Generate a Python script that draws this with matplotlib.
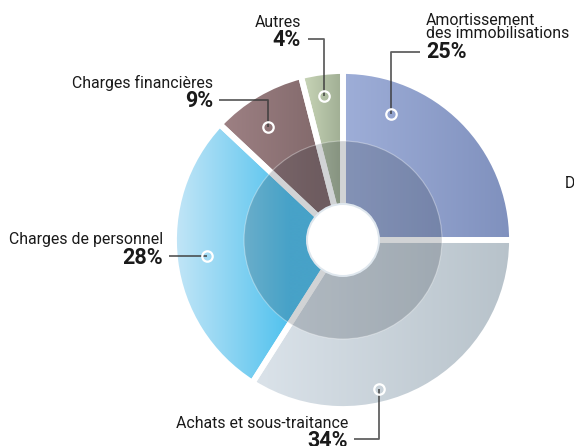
import numpy as np
import matplotlib
matplotlib.use("Agg")
import matplotlib.pyplot as plt
from matplotlib.colors import to_rgb
from matplotlib.patches import Circle

# ---- data ----
categories = ["Amortissement\ndes immobilisations", "Achats et sous-traitance",
              "Charges de personnel", "Charges financières", "Autres"]
values = [25, 34, 28, 9, 4]
pct_labels = ["25%", "34%", "28%", "9%", "4%"]
grad_left = ["#9eaed8", "#dbe3ea", "#c4e6f7", "#9e8184", "#cad7b9"]
grad_right = ["#7f90bd", "#b7c2ca", "#52c2ee", "#836a6c", "#9eac92"]

W, H = 574, 446
plt.rcParams['font.family'] = ['Roboto', 'DejaVu Sans']
fig = plt.figure(figsize=(W / 100, H / 100), dpi=100)
ax = fig.add_axes([0, 0, 1, 1])

def Y(y):
    return H - y

cx, cy, R = 343, Y(240), 169
wedges, _ = ax.pie(values, startangle=90, counterclock=False, center=(cx, cy),
                   radius=R, wedgeprops=dict(facecolor='none', edgecolor='white',
                                             linewidth=4.2, zorder=3))
ax.set_xlim(0, W)
ax.set_ylim(0, H)
ax.set_aspect('equal')
ax.axis('off')

for w, cl, cr in zip(wedges, grad_left, grad_right):
    verts = w.get_patch_transform().transform(w.get_path().vertices)
    y0, y1 = verts[:, 1].min(), verts[:, 1].max()
    x0a, x1a = verts[:, 0].min(), verts[:, 0].max()
    # gradient spans the visible (outer) part of the slice
    th = np.radians(np.linspace(w.theta1, w.theta2, 200))
    rr = np.linspace(0.6 * R, R, 20)
    px = (cx + np.outer(rr, np.cos(th))).ravel()
    g0, g1 = px.min(), px.max()
    xs = np.linspace(x0a, x1a, 512)
    t = np.clip((xs - g0) / max(g1 - g0, 1), 0, 1)[None, :, None]
    img = (1 - t) * np.array(to_rgb(cl)) + t * np.array(to_rgb(cr))
    im = ax.imshow(img, extent=[x0a, x1a, y0, y1], aspect='auto',
                   interpolation='bilinear', zorder=2)
    im.set_clip_path(w)

# inner translucent ring and white hole
ax.add_patch(Circle((cx, cy), 99, facecolor='#1c2530', alpha=0.2,
                    edgecolor='none', zorder=4))
ax.add_patch(Circle((cx, cy), 99, facecolor='none', edgecolor='white',
                    alpha=0.35, linewidth=0.8, zorder=4))
ax.add_patch(Circle((cx, cy), 37, facecolor='#dfe7ee', edgecolor='none', zorder=5))
ax.add_patch(Circle((cx, cy), 35, facecolor='white', edgecolor='none', zorder=6))

# ---- labels ----
lab_fs, pct_fs = 11.4, 15.5
txt_col = '#1a1a1a'
line_col = '#3a3a3a'

def leader(points, marker):
    xs = [p[0] for p in points] + [marker[0]]
    ys = [Y(p[1]) for p in points] + [Y(marker[1])]
    ax.plot(xs, ys, color=line_col, lw=1.3, alpha=0.8, zorder=7,
            solid_capstyle='butt')
    ax.plot([marker[0]], [Y(marker[1])], marker='o', ms=7.5, mfc='none',
            mec='white', mew=1.6, zorder=8)

# Amortissement
ax.text(426, Y(38), categories[0], fontsize=lab_fs, color=txt_col, va='baseline',
        ha='left', linespacing=0.82)
ax.text(426, Y(58), pct_labels[0], fontsize=pct_fs, fontweight='bold', color=txt_col, va='baseline', ha='left')
leader([(420, 52), (391, 52)], (391, 114))

# Autres
ax.text(301, Y(27), categories[4], fontsize=lab_fs, color=txt_col, va='baseline', ha='right')
ax.text(301, Y(46), pct_labels[4], fontsize=pct_fs, fontweight='bold', color=txt_col, va='baseline', ha='right')
leader([(308, 39), (324, 39)], (324, 96))

# Charges financières
ax.text(213, Y(88), categories[3], fontsize=lab_fs, color=txt_col, va='baseline', ha='right')
ax.text(213, Y(107), pct_labels[3], fontsize=pct_fs, fontweight='bold', color=txt_col, va='baseline', ha='right')
leader([(219, 100), (268, 100)], (268, 127))

# Charges de personnel
ax.text(163, Y(244), categories[2], fontsize=lab_fs, color=txt_col, va='baseline', ha='right')
ax.text(163, Y(264), pct_labels[2], fontsize=pct_fs, fontweight='bold', color=txt_col, va='baseline', ha='right')
leader([(169, 256)], (207, 256))

# Achats et sous-traitance
ax.text(348, Y(428), categories[1], fontsize=lab_fs, color=txt_col, va='baseline', ha='right')
ax.text(348, Y(447), pct_labels[1], fontsize=pct_fs, fontweight='bold', color=txt_col, va='baseline', ha='right')
leader([(354, 439), (379, 439)], (379, 389))

# cut-off label at the right edge
ax.text(565, Y(188), "D", fontsize=lab_fs, color=txt_col, va='baseline', ha='left')

fig.savefig("out.png", dpi=100)
